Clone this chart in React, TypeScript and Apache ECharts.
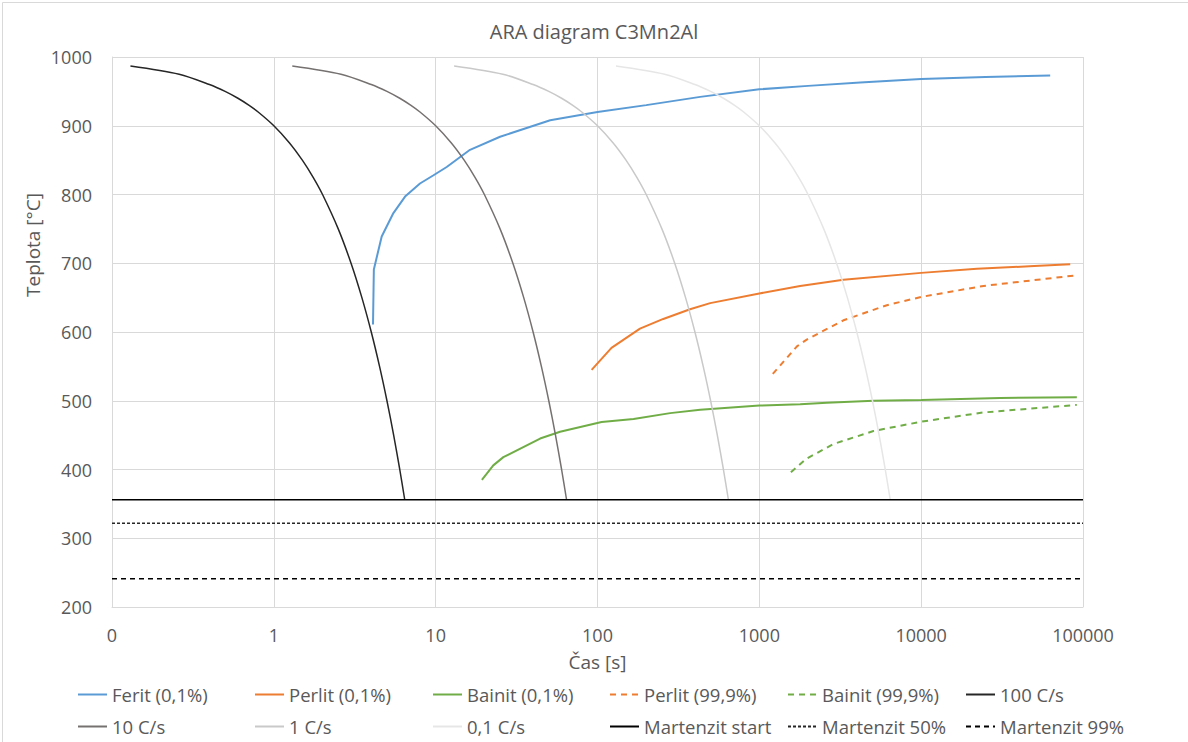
import React, { useEffect, useRef } from "react";
import * as echarts from "echarts";

const TITLE = "ARA diagram C3Mn2Al";
const X_NAME = "Čas [s]";
const Y_NAME = "Teplota [°C]";

// [time s, temperature °C]
const ferit01: [number, number][] = [
  [4.1, 611], [4.15, 691], [4.64, 739], [5.48, 773], [6.47, 797], [8.0, 816], [9.7, 828],
  [11.7, 840], [16.3, 865], [25, 884], [51, 908], [100, 920], [200, 930], [431, 942],
  [1000, 953], [2000, 958], [4200, 963], [10000, 968], [25000, 971], [62700, 973],
];
const perlit01: [number, number][] = [
  [92, 545], [122, 577], [183, 605], [255, 619], [373, 633], [497, 642], [1000, 656],
  [1787, 667], [3310, 676], [10000, 686], [22100, 692], [50000, 696], [83400, 698.5],
];
const bainit01: [number, number][] = [
  [19.3, 385], [22.7, 406], [26.2, 418], [44.2, 445], [58.7, 455], [106, 469], [167, 473.5],
  [281, 482], [431, 487], [1000, 493], [1787, 495], [2610, 497], [5070, 500], [10000, 501],
  [30800, 504], [91600, 505],
];
const perlit999: [number, number][] = [
  [1211, 539], [1707, 579], [1963, 589], [3310, 617], [6140, 639], [10000, 651],
  [24300, 667], [87300, 682],
];
const bainit999: [number, number][] = [
  [1567, 396], [1963, 416], [2870, 437], [5070, 456], [10000, 469.5], [24300, 483], [91600, 494],
];
const cool100: [number, number][] = [
  [0.13, 987], [0.26, 975], [0.4, 960], [0.5, 950], [0.6, 940], [0.7, 930], [0.8, 920], [1, 900],
  [1.25, 875], [1.5, 850], [1.75, 825], [2, 800], [2.5, 750], [3, 700], [3.5, 650], [4, 600],
  [4.5, 550], [5, 500], [5.5, 450], [6, 400], [6.44, 356],
];
const cool10: [number, number][] = [
  [1.3, 987], [2.6, 975], [4, 960], [5, 950], [6, 940], [7, 930], [8, 920], [10, 900],
  [12.5, 875], [15, 850], [17.5, 825], [20, 800], [25, 750], [30, 700], [35, 650], [40, 600],
  [45, 550], [50, 500], [55, 450], [60, 400], [64.4, 356],
];
const cool1: [number, number][] = [
  [13, 987], [26, 975], [40, 960], [50, 950], [60, 940], [70, 930], [80, 920], [100, 900],
  [125, 875], [150, 850], [175, 825], [200, 800], [250, 750], [300, 700], [350, 650], [400, 600],
  [450, 550], [500, 500], [550, 450], [600, 400], [644, 356],
];
const cool01: [number, number][] = [
  [130, 987], [260, 975], [400, 960], [500, 950], [600, 940], [700, 930], [800, 920], [1000, 900],
  [1250, 875], [1500, 850], [1750, 825], [2000, 800], [2500, 750], [3000, 700], [3500, 650], [4000, 600],
  [4500, 550], [5000, 500], [5500, 450], [6000, 400], [6440, 356],
];
const msStart: [number, number][] = [[0.1, 356], [100000, 356]];
const ms50: [number, number][] = [[0.1, 322], [100000, 322]];
const ms99: [number, number][] = [[0.1, 241], [100000, 241]];

const SERIES = [
  { name: "Ferit (0,1%)", data: ferit01, color: "#5b9bd5", width: 2, type: "solid", smooth: false },
  { name: "Perlit (0,1%)", data: perlit01, color: "#ed7d31", width: 2, type: "solid", smooth: false },
  { name: "Bainit (0,1%)", data: bainit01, color: "#70ad47", width: 2, type: "solid", smooth: false },
  { name: "Perlit (99,9%)", data: perlit999, color: "#ed7d31", width: 2, type: [6, 5], smooth: false },
  { name: "Bainit (99,9%)", data: bainit999, color: "#70ad47", width: 2, type: [6, 5], smooth: false },
  { name: "100 C/s", data: cool100, color: "#262626", width: 1.5, type: "solid", smooth: true },
  { name: "10 C/s", data: cool10, color: "#767171", width: 1.5, type: "solid", smooth: true },
  { name: "1 C/s", data: cool1, color: "#c9c9c9", width: 1.5, type: "solid", smooth: true },
  { name: "0,1 C/s", data: cool01, color: "#e7e6e6", width: 1.5, type: "solid", smooth: true },
  { name: "Martenzit start", data: msStart, color: "#000000", width: 1.5, type: "solid", smooth: false },
  { name: "Martenzit 50%", data: ms50, color: "#262626", width: 1.5, type: [3, 2], smooth: false },
  { name: "Martenzit 99%", data: ms99, color: "#000000", width: 1.5, type: [5, 4], smooth: false },
];

const FONT = "'Open Sans', 'Noto Sans', sans-serif";
const TEXT = "#595959";

export default function App() {
  const ref = useRef<HTMLDivElement>(null);
  useEffect(() => {
    if (!ref.current) return;
    const chart = echarts.init(ref.current, undefined, { renderer: "svg" });
    const colX = [77, 254, 432, 609, 787, 965];
    const rowTop = [685, 717];
    const legends = SERIES.map((s, i) => ({
      orient: "horizontal",
      left: colX[i % 6],
      top: rowTop[Math.floor(i / 6)],
      padding: 0,
      itemWidth: 29,
      itemHeight: 14,
      itemStyle: { opacity: 0 },
      textStyle: { color: TEXT, fontSize: 18.5, fontFamily: FONT },
      data: [s.name],
    }));
    chart.setOption({
      animation: false,
      backgroundColor: "#ffffff",
      title: {
        text: TITLE,
        left: "center",
        top: 16,
        textStyle: { color: TEXT, fontSize: 20, fontWeight: "normal", fontFamily: FONT },
      },
      legend: legends,
      grid: { left: 112, right: 105, top: 57, bottom: 135 },
      xAxis: {
        type: "log",
        logBase: 10,
        min: 0.1,
        max: 100000,
        name: X_NAME,
        nameLocation: "middle",
        nameGap: 45,
        nameTextStyle: { color: TEXT, fontSize: 19, fontFamily: FONT },
        axisLine: { lineStyle: { color: "#d9d9d9" } },
        axisTick: { show: false },
        axisLabel: {
          color: TEXT,
          fontSize: 18,
          fontFamily: FONT,
          margin: 19,
          formatter: (v: number) => (v < 1 ? "0" : String(Math.round(v))),
        },
        splitLine: { show: true, lineStyle: { color: "#d9d9d9" } },
        minorTick: { show: false },
      },
      yAxis: {
        type: "value",
        min: 200,
        max: 1000,
        interval: 100,
        axisLine: { show: true, lineStyle: { color: "#d9d9d9" } },
        axisTick: { show: false },
        axisLabel: {
          color: TEXT,
          fontSize: 18,
          fontFamily: FONT,
          margin: 20,
          formatter: (v: number) => String(v),
        },
        splitLine: { show: true, lineStyle: { color: "#d9d9d9" } },
      },
      graphic: [
        {
          type: "rect",
          left: 0,
          top: 0,
          shape: { width: 1186, height: 740 },
          style: { fill: "none", stroke: "#d9d9d9", lineWidth: 1 },
          silent: true,
          z: -1,
        },
        {
          type: "text",
          x: 33,
          y: 245,
          rotation: Math.PI / 2,
          silent: true,
          style: {
            text: Y_NAME,
            fill: TEXT,
            fontSize: 19,
            fontFamily: FONT,
            align: "center",
            verticalAlign: "middle",
          },
        },
      ],
      series: SERIES.map((s) => ({
        name: s.name,
        type: "line",
        data: s.data,
        showSymbol: false,
        symbol: "none",
        smooth: s.smooth ? 0.3 : false,
        color: s.color,
        lineStyle: { color: s.color, width: s.width, type: s.type },
        emphasis: { disabled: true },
      })),
    });
    return () => chart.dispose();
  }, []);
  return <div ref={ref} style={{ width: 1188, height: 742, position: "absolute", left: 0, top: 0 }} />;
}
